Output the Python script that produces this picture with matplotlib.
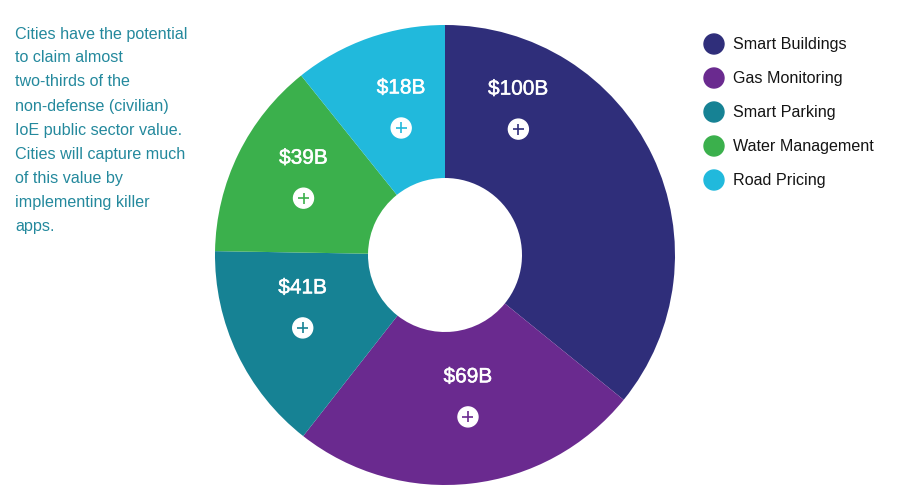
import numpy as np
import matplotlib
matplotlib.use('Agg')
import matplotlib.pyplot as plt
import matplotlib.patheffects as pe
from matplotlib.patches import Circle

plt.rcParams['font.family'] = ['Liberation Sans', 'DejaVu Sans']

# data
categories = ['Smart Buildings', 'Gas Monitoring', 'Smart Parking',
	'Water Management', 'Road Pricing']
values = [100, 69, 41, 39, 18]
value_labels = ['$100B', '$69B', '$41B', '$39B', '$18B']
# slice sizes as drawn in the source (smallest slice is drawn enlarged)
wedge_sizes = [100, 69, 41, 39, 30]
colors = ['#2f2e7a', '#6a2a8f', '#168294', '#3bb04c', '#21b9dc']

note_lines = [
	'Cities have the potential',
	'to claim almost',
	'two-thirds of the',
	'non-defense (civilian)',
	'IoE public sector value.',
	'Cities will capture much',
	'of this value by',
	'implementing killer',
	'apps.',
]

# label anchors (angle clockwise from top in deg, radius as fraction)
label_angles = [26.7, 170.8, 249.6, 298.5, 343.4]
label_radii = [0.71, 0.625, 0.66, 0.70, 0.667]

W, H = 900, 497
fig = plt.figure(figsize=(W / 100, H / 100), dpi=100)

# donut axes: center (445, 255) px, radius 230 px
cx, cy, r = 445, 255, 230
half = 241.5
ax = fig.add_axes([(cx - half) / W, (H - cy - half) / H, 2 * half / W, 2 * half / H])
lim = half / r
ax.pie(wedge_sizes, colors=colors, startangle=90, counterclock=False, radius=1.0,
	wedgeprops=dict(width=1 - 77 / 230, edgecolor='none'))
ax.set_xlim(-lim, lim)
ax.set_ylim(-lim, lim)
ax.set_aspect('equal')
ax.axis('off')

px = 1 / r
semibold = [pe.withStroke(linewidth=0.35, foreground='white')]
for lab, ang, rad, col in zip(value_labels, label_angles, label_radii, colors):
	a = np.deg2rad(90 - ang)
	x, y = rad * np.cos(a), rad * np.sin(a)
	ax.text(x, y + 20 * px, lab, color='white', fontsize=15, ha='center',
		va='center', path_effects=semibold)
	ax.add_patch(Circle((x, y - 20 * px), 10 * px, color='white', zorder=3))
	ax.plot([x - 5.5 * px, x + 5.5 * px], [y - 20 * px, y - 20 * px],
		color=col, lw=1.2, zorder=4, solid_capstyle='butt')
	ax.plot([x, x], [y - 25.5 * px, y - 14.5 * px],
		color=col, lw=1.2, zorder=4, solid_capstyle='butt')

# overlay in pixel coordinates for text and legend
ov = fig.add_axes([0, 0, 1, 1])
ov.set_xlim(0, W)
ov.set_ylim(H, 0)
ov.axis('off')

for i, line in enumerate(note_lines):
	ov.text(15, 34 + 24 * i, line, color='#24899d', fontsize=11.6,
		ha='left', va='center')

for i, (cat, col) in enumerate(zip(categories, colors)):
	y = 44 + 34 * i
	ov.add_patch(Circle((714, y), 10, color=col))
	ov.text(733, y, cat, color='#141414', fontsize=11.6, ha='left',
		va='center')

fig.savefig('out.png', dpi=100)
